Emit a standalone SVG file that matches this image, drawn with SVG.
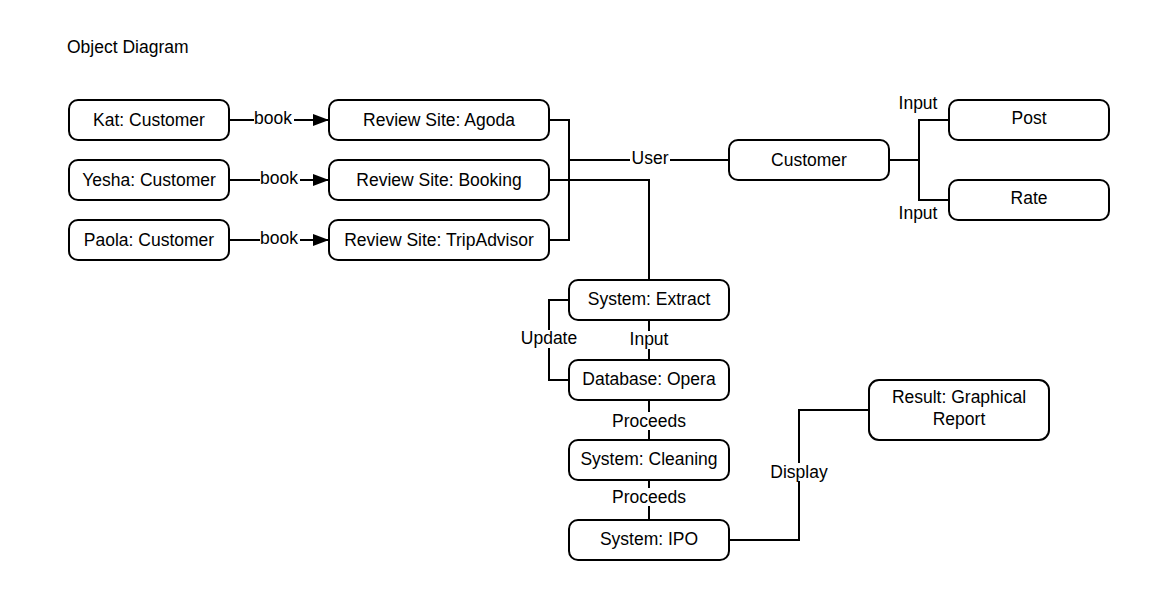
<svg xmlns="http://www.w3.org/2000/svg" width="1172" height="602" viewBox="0 0 1172 602">
<defs>
<style>
text{font-family:"Liberation Sans",Arial,sans-serif;font-size:17.5px;fill:#000}
.n rect{fill:#fff;stroke:#000;stroke-width:2}
.n text{text-anchor:middle}
.c path{fill:none;stroke:#000;stroke-width:2}
.lbl rect{fill:#fff}
.lbl text{text-anchor:middle}
</style>
<marker id="arr" viewBox="0 0 16 12" refX="16" refY="6" markerWidth="16" markerHeight="12" markerUnits="userSpaceOnUse" orient="auto">
<path d="M0,0 L16,6 L0,12 Z" fill="#000"/>
</marker>
</defs>
<rect width="1172" height="602" fill="#fff"/>
<text x="67" y="53">Object Diagram</text>

<g class="c" id="connectors">
<path d="M229,120 H329" marker-end="url(#arr)"/>
<path d="M229,180 H329" marker-end="url(#arr)"/>
<path d="M229,240 H329" marker-end="url(#arr)"/>
<path d="M549,120 H569 V240 H549"/>
<path d="M569,160 H729"/>
<path d="M549,180 H649 V280"/>
<path d="M889,160 H919"/>
<path d="M949,120 H919 V200 H949"/>
<path d="M569,300 H549 V380 H569"/>
<path d="M649,320 V360"/>
<path d="M649,400 V440"/>
<path d="M649,480 V520"/>
<path d="M729,540 H799 V410 H869"/>
</g>

<g class="lbl" id="labels">
<rect x="254" y="110" width="40" height="18"/><text x="273" y="124">book</text>
<rect x="260" y="170" width="40" height="18"/><text x="279" y="184">book</text>
<rect x="260" y="230" width="40" height="18"/><text x="279" y="244">book</text>
<rect x="630" y="150" width="40" height="18"/><text x="650" y="164">User</text>
<text x="918" y="109">Input</text>
<text x="918" y="219">Input</text>
<rect x="519" y="330" width="60" height="18"/><text x="549" y="344">Update</text>
<rect x="627" y="331" width="44" height="18"/><text x="649" y="345">Input</text>
<rect x="610" y="412" width="78" height="18"/><text x="649" y="427">Proceeds</text>
<rect x="610" y="488" width="78" height="18"/><text x="649" y="503">Proceeds</text>
<rect x="768" y="463" width="62" height="18"/><text x="799" y="478">Display</text>
</g>

<g class="n" id="kat"><rect x="69" y="100" width="160" height="40" rx="9"/><text x="149" y="126">Kat: Customer</text></g>
<g class="n" id="yesha"><rect x="69" y="160" width="160" height="40" rx="9"/><text x="149" y="186">Yesha: Customer</text></g>
<g class="n" id="paola"><rect x="69" y="220" width="160" height="40" rx="9"/><text x="149" y="246">Paola: Customer</text></g>
<g class="n" id="agoda"><rect x="329" y="100" width="220" height="40" rx="9"/><text x="439" y="126">Review Site: Agoda</text></g>
<g class="n" id="booking"><rect x="329" y="160" width="220" height="40" rx="9"/><text x="439" y="186">Review Site: Booking</text></g>
<g class="n" id="tripadvisor"><rect x="329" y="220" width="220" height="40" rx="9"/><text x="439" y="246">Review Site: TripAdvisor</text></g>
<g class="n" id="customer"><rect x="729" y="140" width="160" height="40" rx="9"/><text x="809" y="166">Customer</text></g>
<g class="n" id="post"><rect x="949" y="100" width="160" height="40" rx="9"/><text x="1029" y="124">Post</text></g>
<g class="n" id="rate"><rect x="949" y="180" width="160" height="40" rx="9"/><text x="1029" y="204">Rate</text></g>
<g class="n" id="extract"><rect x="569" y="280" width="160" height="40" rx="9"/><text x="649" y="305">System: Extract</text></g>
<g class="n" id="opera"><rect x="569" y="360" width="160" height="40" rx="9"/><text x="649" y="385">Database: Opera</text></g>
<g class="n" id="cleaning"><rect x="569" y="440" width="160" height="40" rx="9"/><text x="649" y="465">System: Cleaning</text></g>
<g class="n" id="ipo"><rect x="569" y="520" width="160" height="40" rx="9"/><text x="649" y="545">System: IPO</text></g>
<g class="n" id="result"><rect x="869" y="380" width="180" height="60" rx="10"/><text x="959" y="403">Result: Graphical</text><text x="959" y="425">Report</text></g>
</svg>
